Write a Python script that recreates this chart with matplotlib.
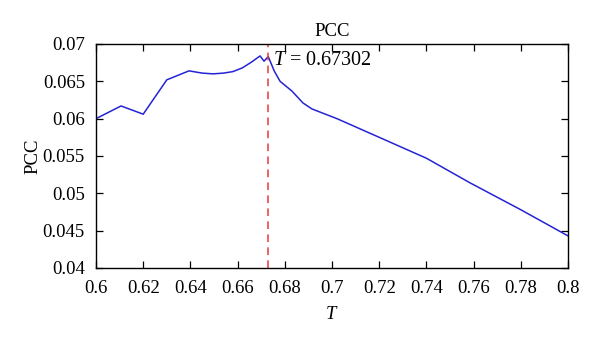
import matplotlib
matplotlib.use("Agg")
import matplotlib.pyplot as plt
import numpy as np

# PCC versus threshold T
t_values = [0.600, 0.6106, 0.620, 0.630, 0.6394, 0.6450, 0.6496, 0.6540, 0.6580,
            0.6620, 0.6660, 0.6695, 0.6712, 0.6730, 0.6755, 0.678, 0.6830,
            0.6877, 0.6915, 0.7021, 0.720, 0.740, 0.7585, 0.780, 0.800]
pcc_values = [0.0600, 0.0617, 0.0606, 0.0652, 0.0664, 0.0661, 0.0660, 0.0661, 0.0663,
              0.0668, 0.0676, 0.0684, 0.0677, 0.0683, 0.0664, 0.0650, 0.0637,
              0.0621, 0.0613, 0.0600, 0.0575, 0.0547, 0.0514, 0.0478, 0.0443]
t_best = 0.67302

plt.rcParams["font.family"] = ["Liberation Serif", "DejaVu Serif"]
plt.rcParams["mathtext.fontset"] = "custom"
plt.rcParams["mathtext.it"] = "Liberation Serif:italic"
plt.rcParams["mathtext.rm"] = "Liberation Serif"

fig = plt.figure(figsize=(6, 3.45), dpi=100)
ax = fig.add_axes([0.16, 0.2232, 0.7867, 0.6493])

ax.plot(t_values, pcc_values, color="#2424d4", linewidth=1.1)
ax.axvline(t_best, color="#e8383a", linestyle=(0, (5, 3.5)), linewidth=1.1)
ax.text(0.6752, 0.0678, "$T$ = %.5f" % t_best, fontsize=14.5, va="center")

ax.set_xlim(0.6, 0.8)
ax.set_ylim(0.04, 0.07)
ax.set_xticks(np.arange(0.6, 0.8001, 0.02))
ax.set_xticklabels(["0.6", "0.62", "0.64", "0.66", "0.68", "0.7", "0.72",
                    "0.74", "0.76", "0.78", "0.8"])
ax.set_yticks(np.arange(0.04, 0.07001, 0.005))
ax.set_yticklabels(["0.04", "0.045", "0.05", "0.055", "0.06", "0.065", "0.07"])
ax.tick_params(direction="in", top=True, right=True, length=5, width=0.9,
               labelsize=13.5)
ax.tick_params(axis="x", pad=9)
ax.tick_params(axis="y", pad=8)
for s in ax.spines.values():
    s.set_linewidth(1.0)

ax.set_title("PCC", fontsize=13.5, pad=6)
ax.set_xlabel("$T$", fontsize=13.5, labelpad=6)
ax.set_ylabel("PCC", fontsize=13.5, labelpad=1)

fig.savefig("out.png", dpi=100)
